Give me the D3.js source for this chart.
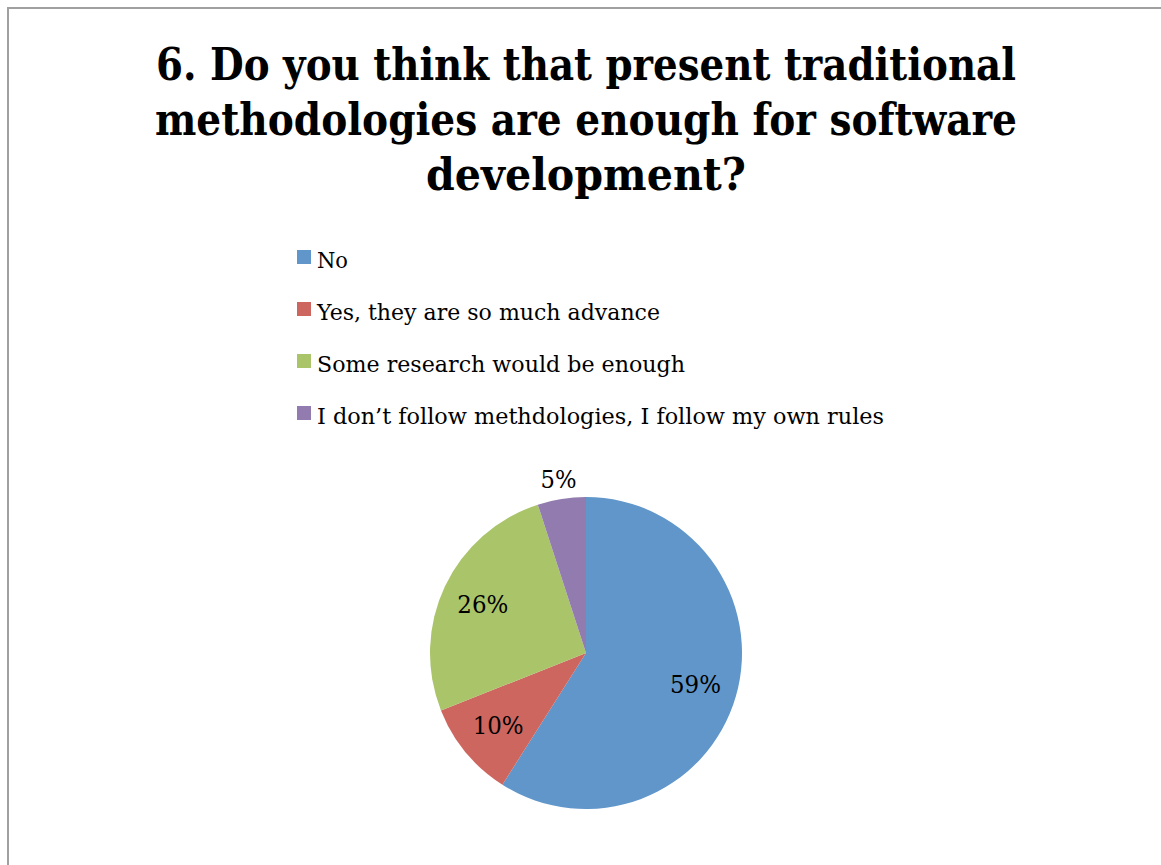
<!DOCTYPE html>
<html>
<head>
<meta charset="utf-8">
<script src="https://cdn.jsdelivr.net/npm/d3@7"></script>
<style>
  body { margin: 0; background: #fff; }
  text { font-family: "DejaVu Serif", "Liberation Serif", serif; fill: #000; }
</style>
</head>
<body>
<svg id="chart"></svg>
<script>
// chart data
var titleLines = ["6. Do you think that present traditional",
                  "methodologies are enough for software",
                  "development?"];
var categories = ["No",
                  "Yes, they are so much advance",
                  "Some research would be enough",
                  "I don\u2019t follow methdologies, I follow my own rules"];
var shares = [59, 10, 26, 5];
var colors = ["#6096ca", "#cd665f", "#aac46a", "#917baf"];

var width = 1161, height = 865;

var svg = d3.select("#chart")
    .attr("width", width)
    .attr("height", height);

svg.append("rect").attr("width", width).attr("height", height).attr("fill", "#fff");

// frame (only top and left edges are visible)
svg.append("path")
    .attr("d", "M8," + height + "V8H" + width)
    .attr("fill", "none")
    .attr("stroke", "#a0a0a0")
    .attr("stroke-width", 2);

// title
var titleWidths = [860, 862, 320];
svg.append("g").selectAll("text")
    .data(titleLines)
  .enter().append("text")
    .attr("x", 586)
    .attr("y", function(d, i) { return 80 + i * 55; })
    .attr("text-anchor", "middle")
    .attr("font-size", 44)
    .attr("font-weight", "bold")
    .attr("textLength", function(d, i) { return titleWidths[i]; })
    .attr("lengthAdjust", "spacingAndGlyphs")
    .text(function(d) { return d; });

// legend
var legendWidths = [31, 343, 368, 567];
var legend = svg.append("g").attr("transform", "translate(297,250)");
var item = legend.selectAll("g")
    .data(categories)
  .enter().append("g")
    .attr("transform", function(d, i) { return "translate(0," + i * 52 + ")"; });
item.append("rect")
    .attr("width", 14).attr("height", 14)
    .attr("fill", function(d, i) { return colors[i]; });
item.append("text")
    .attr("x", 20).attr("y", 18)
    .attr("font-size", 22)
    .attr("textLength", function(d, i) { return legendWidths[i]; })
    .attr("lengthAdjust", "spacingAndGlyphs")
    .text(function(d) { return d; });

// pie
var cx = 586, cy = 653, r = 156;
var pie = d3.pie().sort(null).value(function(d) { return d; });
var arc = d3.arc().innerRadius(0).outerRadius(r);
var labelArc = d3.arc().innerRadius(114).outerRadius(114);
var outerArc = d3.arc().innerRadius(r + 20).outerRadius(r + 20);

var g = svg.append("g").attr("transform", "translate(" + cx + "," + cy + ")");
var arcs = pie(shares);

g.selectAll("path")
    .data(arcs)
  .enter().append("path")
    .attr("d", arc)
    .attr("fill", function(d, i) { return colors[i]; });

g.selectAll("text")
    .data(arcs)
  .enter().append("text")
    .attr("transform", function(d) {
      var c = d.data < 8 ? outerArc.centroid(d) : labelArc.centroid(d);
      return "translate(" + c[0] + "," + c[1] + ")";
    })
    .attr("dy", "0.35em")
    .attr("text-anchor", "middle")
    .attr("font-size", 24)
    .attr("textLength", 51)
    .attr("lengthAdjust", "spacingAndGlyphs")
    .text(function(d) { return d.data + "%"; })
    .filter(function(d) { return d.data < 10; })
    .attr("textLength", 36);
</script>
</body>
</html>
